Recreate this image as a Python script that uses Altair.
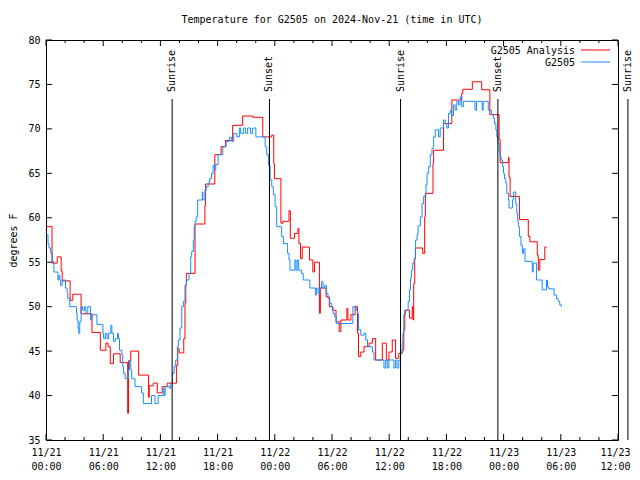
import altair as alt
import pandas as pd

# ---- data (hours since 2024-11-21 00:00 UTC, degrees F) ----
red_h = [0.00, 0.63, 1.18, 1.59, 1.70, 2.53, 2.81, 3.68, 4.82, 5.70, 6.28, 6.51, 6.74, 7.08, 7.78,
         8.57, 8.65, 8.89, 9.72, 10.76, 10.83, 11.25, 11.67, 12.19, 12.71, 13.68, 13.82, 13.96,
         14.45, 14.58, 14.66, 14.72, 15.63, 16.67, 16.74, 17.71, 18.36, 18.82, 19.58, 20.63, 21.70,
         22.74, 23.68, 23.89, 23.96, 24.64, 24.86, 25.49, 25.63, 26.07, 26.43, 26.53, 26.70, 26.88,
         27.64, 27.99, 28.16, 28.68, 28.78, 29.38, 29.72, 30.07, 30.42, 30.76, 30.94, 31.56, 31.67,
         31.98, 32.43, 32.68, 32.78, 33.02, 33.36, 33.89, 34.24, 34.58, 35.28, 35.70, 35.97, 36.32,
         36.67, 37.01, 37.36, 37.53, 37.64, 38.13, 38.41, 38.51, 38.57, 38.68, 38.75, 39.51, 39.72,
         39.79, 40.59, 40.66, 41.70, 42.57, 43.61, 43.72, 44.72, 45.70, 46.56, 47.53, 47.64, 48.51,
         48.57, 48.68, 49.66, 50.59, 50.76, 51.53, 51.64, 51.80, 52.32, 52.50]
red_t = [59.0, 54.9, 55.6, 54.0, 52.9, 50.7, 51.4, 49.2, 47.1, 45.1, 45.9, 45.5, 43.6, 44.7, 43.7,
         38.0, 43.9, 45.0, 42.3, 39.8, 41.1, 41.4, 40.3, 41.0, 41.4, 43.4, 45.3, 44.8,
         46.4, 50.4, 52.4, 53.75, 59.3, 61.4, 63.8, 67.1, 68.0, 68.7, 70.4, 71.45, 71.3,
         69.1, 69.3, 66.1, 64.4, 59.4, 59.6, 60.8, 57.7, 58.25, 58.8, 57.1, 55.4, 56.7,
         55.25, 53.9, 55.0, 49.25, 52.1, 51.1, 50.0, 49.6, 48.3, 47.2, 48.5, 49.8, 48.5,
         49.1, 50.0, 47.0, 44.4, 44.9, 45.5, 45.9, 46.4, 44.0, 45.9, 44.0, 44.9, 46.25,
         44.2, 44.75, 45.1, 47.4, 49.6, 48.7, 50.0, 48.5, 52.6, 55.4, 56.6, 56.0, 60.1,
         62.75, 66.1, 67.6, 70.6, 73.25, 74.0, 74.45, 75.3, 74.4, 71.6, 68.8, 66.2, 66.8,
         64.55, 62.4, 59.8, 57.9, 57.3, 55.8, 54.1, 55.3, 56.7, 56.7]

blue_h = [0.00, 0.21, 0.31, 0.49, 0.66, 0.83, 1.25, 1.35, 1.46, 1.53, 1.70, 2.05, 2.22, 2.29, 2.50,
          3.20, 3.26, 3.36, 3.44, 3.54, 3.68, 3.85, 4.03, 4.17, 4.38, 4.66, 4.82, 5.34, 5.97, 6.04,
          6.22, 6.39, 6.56, 6.80, 6.91, 7.08, 7.26, 7.50, 7.60, 7.71, 7.95, 8.05, 8.13, 8.30, 8.65,
          8.75, 8.89, 8.99, 9.34, 10.03, 10.21, 11.07, 11.43, 11.77, 12.29, 12.40, 12.50, 12.99,
          13.09, 13.26, 13.44, 13.61, 13.78, 13.89, 14.06, 14.24, 14.41, 14.58, 14.72, 15.00,
          15.18, 15.28, 15.45, 15.55, 15.63, 15.76, 15.91, 16.39, 16.46, 16.67, 16.80, 17.01,
          17.16, 17.36, 17.53, 17.71, 17.81, 18.05, 18.54, 18.89, 19.24, 19.48, 19.69, 20.00,
          20.28, 20.42, 20.73, 20.94, 21.15, 21.46, 21.67, 22.01, 22.99, 23.16, 23.33, 23.51,
          23.68, 23.85, 24.03, 24.20, 24.72, 24.90, 25.34, 25.49, 25.59, 26.11, 26.22, 26.35,
          26.51, 26.80, 26.98, 27.68, 28.26, 28.36, 28.54, 28.72, 28.89, 29.06, 29.24, 29.41,
          29.58, 29.76, 29.93, 30.10, 30.28, 30.45, 32.19, 32.53, 32.68, 32.78, 33.02, 33.36,
          33.54, 33.72, 34.24, 34.41, 35.45, 35.63, 35.80, 35.97, 36.49, 36.67, 36.82, 37.01,
          37.19, 37.36, 37.43, 37.53, 37.71, 37.99, 38.13, 38.23, 38.33, 38.47, 38.61, 38.75,
          38.93, 39.03, 39.27, 39.45, 39.61, 39.86, 39.97, 40.14, 40.31, 40.49, 40.66, 40.83,
          41.18, 41.35, 41.70, 41.88, 42.05, 42.22, 42.40, 42.55, 42.74, 42.92, 43.09, 43.28,
          43.44, 43.61, 43.78, 45.00, 45.16, 45.76, 45.86, 46.39, 46.74, 46.91, 47.05, 47.19,
          47.29, 47.40, 47.53, 47.64, 47.74, 47.89, 47.99, 48.09, 48.23, 48.33, 48.51, 48.57,
          48.93, 49.03, 49.27, 49.38, 49.48, 49.55, 49.66, 49.82, 49.97, 50.07, 50.24, 51.01,
          51.11, 51.46, 52.05, 52.50, 52.60, 52.74, 53.30, 53.54, 53.72, 53.89, 54.06]
blue_t = [58.1, 57.1, 56.6, 56.0, 55.1, 53.9, 53.0, 53.5, 53.0, 52.4, 53.0, 52.1, 51.5, 50.9, 50.0,
          49.25, 48.5, 47.6, 47.0, 48.3, 50.0, 49.6, 50.0, 49.2, 50.0, 48.5, 49.1, 48.0, 47.0, 46.4,
          47.0, 46.4, 47.0, 47.9, 47.0, 46.1, 46.4, 47.0, 46.4, 45.1, 44.6, 43.25, 42.5, 41.9, 42.9,
          44.0, 42.9, 41.9, 41.0, 40.3, 39.1, 40.0, 39.1, 40.0, 40.8, 40.0, 41.0, 40.8,
          41.4, 42.5, 43.25, 44.0, 45.5, 46.25, 47.6, 50.0, 50.6, 52.4, 53.0, 53.75,
          55.6, 56.2, 57.5, 59.0, 59.6, 60.1, 62.0, 62.9, 62.0, 63.1, 63.5, 63.9,
          64.4, 65.0, 65.9, 65.4, 66.0, 67.1, 68.0, 68.6, 69.05, 68.6, 69.5, 69.1,
          70.1, 69.5, 70.1, 69.5, 70.1, 69.5, 70.1, 69.1, 68.0, 67.1, 65.9, 64.25,
          63.5, 62.6, 61.25, 59.0, 57.9, 57.1, 56.0, 55.25, 54.1, 55.25, 54.1, 55.25,
          54.1, 53.75, 53.0, 52.1, 51.3, 52.1, 51.5, 52.1, 52.8, 52.1, 52.4, 51.5,
          50.9, 50.4, 50.0, 49.25, 48.9, 48.1, 50.0, 49.6, 49.25, 47.4, 46.8, 47.0,
          46.25, 45.5, 44.9, 44.0, 43.1, 44.0, 43.1, 44.0, 43.1, 44.0, 43.1, 44.0,
          44.75, 45.9, 47.0, 49.1, 49.6, 50.6, 51.9, 53.2, 54.1, 54.9, 55.4, 57.5,
          58.1, 59.1, 60.1, 61.6, 62.4, 63.7, 65.0, 65.75, 67.1, 67.8, 69.1, 69.9,
          69.1, 70.1, 71.0, 70.6, 70.1, 71.75, 72.1, 71.5, 72.7, 72.1, 73.1, 72.7,
          73.6, 72.5, 73.1, 72.1, 73.1, 72.1, 73.1, 72.1, 71.6, 71.2, 70.6, 69.9,
          69.1, 68.4, 67.4, 66.9, 66.5, 65.75, 65.0, 64.4, 63.9, 62.75, 62.0, 61.1,
          62.0, 62.9, 61.6, 60.5, 59.6, 59.0, 57.9, 56.9, 56.0, 56.5, 55.1, 53.9,
          54.9, 53.0, 51.9, 53.0, 52.25, 52.0, 51.3, 50.9, 50.6, 50.2, 50.0]

sun_h = [13.23, 23.44, 37.19, 47.40, 61.04]
sun_label = ["Sunrise", "Sunset", "Sunrise", "Sunset", "Sunrise"]

x_major = [0, 6, 12, 18, 24, 30, 36, 42, 48, 54, 60]
x_minor = [2, 4, 8, 10, 14, 16, 20, 22, 26, 28, 32, 34, 38, 40, 44, 46, 50, 52, 56, 58]
y_major = [35, 40, 45, 50, 55, 60, 65, 70, 75, 80]

series_names = ["G2505 Analysis", "G2505"]
series_colors = ["#ff0000", "#1a8cff"]
title_text = "Temperature for G2505 on 2024-Nov-21 (time in UTC)"

FONT = "DejaVu Sans Mono"
W, H = 572, 400

red_df = pd.DataFrame({"h": red_h, "t": red_t})
blue_df = pd.DataFrame({"h": blue_h, "t": blue_t})
sun_df = pd.DataFrame({"h": sun_h, "label": sun_label})
xmaj_df = pd.DataFrame({"h": x_major})
xmin_df = pd.DataFrame({"h": x_minor})
ymaj_df = pd.DataFrame({"t": y_major})

xs = alt.Scale(domain=[0, 60], nice=False, zero=False)
ys = alt.Scale(domain=[35, 80], nice=False, zero=False)

xaxis = alt.Axis(
    values=x_major, title=None, ticks=False, domain=False, grid=False,
    labelExpr="['11/' + (21 + floor(datum.value / 24)), (datum.value % 24 < 10 ? '0' : '') + (datum.value % 24) + ':00']",
    labelFont=FONT, labelFontSize=10, labelColor="black", labelPadding=7,
    labelLineHeight=14, labelBaseline="top", labelFlush=False, labelOverlap=False,
    labelOffset={"condition": {"test": "datum.value == 60", "value": -3}, "value": 0},
)
yaxis = alt.Axis(
    values=y_major, title="degrees F", ticks=False, domain=False, grid=False,
    labelFont=FONT, labelFontSize=10, labelColor="black", labelPadding=6,
    titleFont=FONT, titleFontSize=10, titleFontWeight="normal", titleColor="black",
    titlePadding=9,
)

X = alt.X("h:Q", scale=xs, axis=xaxis)
Y = alt.Y("t:Q", scale=ys, axis=yaxis)

red_line = alt.Chart(red_df).mark_line(interpolate="step-after", color=series_colors[0], strokeWidth=1).encode(x=X, y=Y)
blue_line = alt.Chart(blue_df).mark_line(interpolate="step-after", color=series_colors[1], strokeWidth=1).encode(x=X, y=Y)

sun_rules = alt.Chart(sun_df).mark_rule(color="black", strokeWidth=1, clip=False).encode(
    x=X, y=alt.value(59), y2=alt.value(H))
sun_text = alt.Chart(sun_df).mark_text(angle=270, align="left", baseline="middle", font=FONT,
                                       fontSize=10, color="black", clip=False).encode(
    x=X, y=alt.value(52), text="label:N")

# inward ticks
bot_major = alt.Chart(xmaj_df).mark_rule(color="black").encode(x=X, y=alt.value(H), y2=alt.value(H - 6))
top_major = alt.Chart(xmaj_df).mark_rule(color="black").encode(x=X, y=alt.value(0), y2=alt.value(6))
bot_minor = alt.Chart(xmin_df).mark_rule(color="black").encode(x=X, y=alt.value(H), y2=alt.value(H - 3))
top_minor = alt.Chart(xmin_df).mark_rule(color="black").encode(x=X, y=alt.value(0), y2=alt.value(3))
left_major = alt.Chart(ymaj_df).mark_rule(color="black").encode(y=Y, x=alt.value(0), x2=alt.value(6))
right_major = alt.Chart(ymaj_df).mark_rule(color="black").encode(y=Y, x=alt.value(W), x2=alt.value(W - 6))

# legend (gnuplot style: text then line sample)
leg_df = pd.DataFrame({"name": series_names, "color": series_colors, "row": [0, 1]})
leg_text = alt.Chart(leg_df).mark_text(
    align="right", baseline="middle", font=FONT, fontSize=10, color="black").encode(
    x=alt.value(529),
    y=alt.Y("row:Q", scale=alt.Scale(domain=[0, 1], range=[10.5, 22.5], nice=False, zero=False), axis=None),
    text="name:N")
leg_line = alt.Chart(leg_df).mark_rule(strokeWidth=1).encode(
    x=alt.value(535), x2=alt.value(564),
    y=alt.Y("row:Q", scale=alt.Scale(domain=[0, 1], range=[10, 22], nice=False, zero=False), axis=None),
    color=alt.Color("color:N", scale=None, legend=None))

title_df = pd.DataFrame({"text": [title_text]})
title_mark = alt.Chart(title_df).mark_text(align="center", baseline="middle", font=FONT, fontSize=10,
                                           color="black", clip=False).encode(
    x=alt.value(W / 2), y=alt.value(-20), text="text:N")

chart = alt.layer(
    red_line, blue_line, sun_rules, sun_text,
    bot_major, top_major, bot_minor, top_minor, left_major, right_major,
    title_mark,
).properties(
    width=W, height=H,
)

legend_layer = alt.layer(leg_text, leg_line).resolve_scale(y="independent")

final = alt.layer(chart, legend_layer).resolve_scale(y="independent").properties(
    width=W, height=H,
    autosize=alt.AutoSizeParams(type="none"),
    padding={"left": 38, "top": 32, "right": 14, "bottom": 32},
    background="white",
).configure_view(stroke="black", strokeWidth=1)

final.save("out.html", embed_options={"renderer": "svg", "actions": False})
